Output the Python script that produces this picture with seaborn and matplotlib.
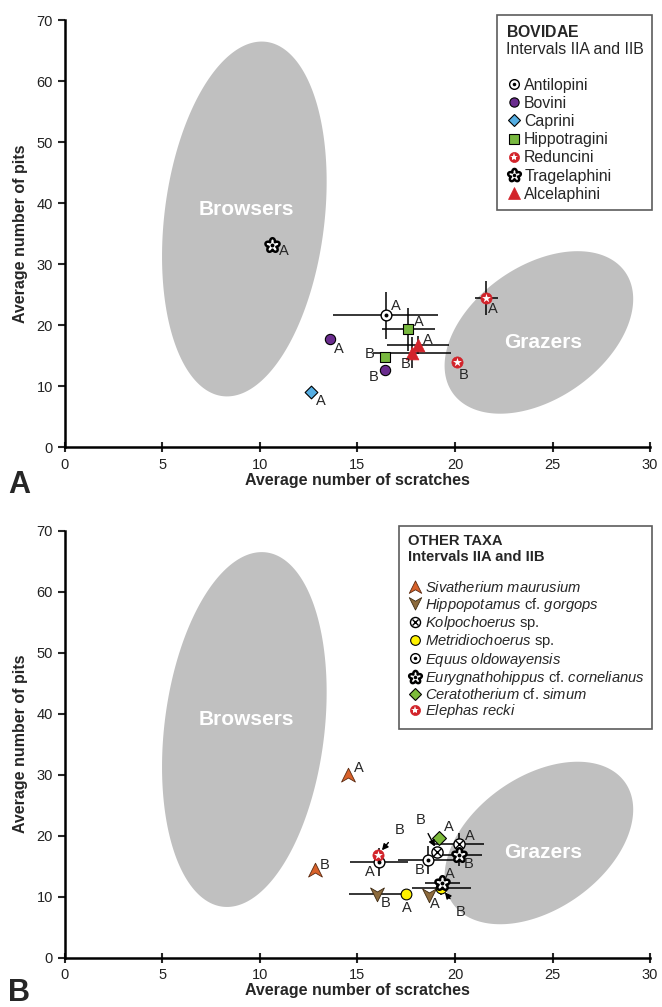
import numpy as np
import pandas as pd
import matplotlib
matplotlib.use("Agg")
import matplotlib.pyplot as plt
from matplotlib.path import Path
from matplotlib.lines import Line2D
import seaborn as sns

# ---- panel A: Bovidae ----
bov_taxa = ["Tragelaphini", "Antilopini", "Hippotragini", "Alcelaphini", "Alcelaphini",
            "Hippotragini", "Bovini", "Bovini", "Caprini", "Reduncini", "Reduncini"]
bov_interval = ["A", "A", "A", "A", "B", "B", "A", "B", "A", "A", "B"]
bov_scratches = [10.6, 16.45, 17.6, 18.1, 17.8, 16.4, 13.6, 16.4, 12.6, 21.6, 20.1]
bov_pits = [33.1, 21.6, 19.3, 16.7, 15.5, 14.8, 17.7, 12.6, 9.1, 24.4, 13.9]
bov_xerr = [0, 2.7, 1.35, 1.6, 2.0, 0, 0, 0, 0, 0.6, 0]
bov_yerr = [0, 3.8, 3.5, 1.5, 2.5, 0, 0, 0, 0, 2.8, 0]
bov_legend = ["Antilopini", "Bovini", "Caprini", "Hippotragini", "Reduncini",
              "Tragelaphini", "Alcelaphini"]

# ---- panel B: other taxa ----
oth_taxa = ["Sivatherium", "Sivatherium", "Hippopotamus", "Hippopotamus",
            "Kolpochoerus", "Kolpochoerus", "Metridiochoerus", "Metridiochoerus",
            "Equus", "Equus", "Eurygnathohippus", "Eurygnathohippus",
            "Ceratotherium", "Elephas"]
oth_interval = ["A", "B", "A", "B", "A", "B", "A", "B", "A", "B", "A", "B", "A", "B"]
oth_scratches = [14.5, 12.8, 18.67, 16.0, 20.2, 19.1, 17.5, 19.3, 16.1, 18.6, 19.35, 20.2, 19.2, 16.07]
oth_pits = [30.0, 14.3, 10.2, 10.5, 18.6, 17.4, 10.4, 11.4, 15.7, 16.0, 12.2, 16.9, 19.6, 16.9]
oth_xerr = [0, 0, 0, 1.45, 1.3, 0, 0, 1.5, 1.5, 1.5, 0.9, 1.2, 0, 0]
oth_yerr = [0, 0, 0, 0, 1.9, 0, 0, 1.1, 2.3, 2.3, 0.9, 1.8, 0, 0]
oth_legend = ["Sivatherium", "Hippopotamus", "Kolpochoerus", "Metridiochoerus",
              "Equus", "Eurygnathohippus", "Ceratotherium", "Elephas"]
oth_names = {
    "Sivatherium": r"$\it{Sivatherium}$ $\it{maurusium}$",
    "Hippopotamus": r"$\it{Hippopotamus}$ cf. $\it{gorgops}$",
    "Kolpochoerus": r"$\it{Kolpochoerus}$ sp.",
    "Metridiochoerus": r"$\it{Metridiochoerus}$ sp.",
    "Equus": r"$\it{Equus}$ $\it{oldowayensis}$",
    "Eurygnathohippus": r"$\it{Eurygnathohippus}$ cf. $\it{cornelianus}$",
    "Ceratotherium": r"$\it{Ceratotherium}$ cf. $\it{simum}$",
    "Elephas": r"$\it{Elephas}$ $\it{recki}$",
}

# label placement (offset points) and arrows
bov_lab_off = [(9, -4), (7, 7), (8, 5), (7, 4), (-5, -8), (-11, 2), (6, -7), (-8, -5), (7, -7), (5, -8), (5, -9)]
oth_lab_off = [(8, 5), (7, 4), (4, -6), (6, -7), (8, 6), (-12, 23), (0.5, -10), (14, -17),
               (-6.5, -7), (-6, -7), (5.5, 7), (7, -7), (6.5, 8), (15, 18)]
oth_arrow = [False] * 5 + [True] + [False, True] + [False] * 5 + [True]

# feeding-group ellipses: centre x, centre y, semi-major, semi-minor (x units), angle
browsers = (9.2, 37.4, 9.15, 4.1, 83)
grazers = (24.3, 18.8, 5.4, 3.4, 35)

# marker shapes
def chevron(up=True):
    pts = [(0, 1), (0.95, -0.9), (0, -0.35), (-0.95, -0.9), (0, 1)]
    if not up:
        pts = [(x, -y) for x, y in pts]
    return Path(pts, [Path.MOVETO, Path.LINETO, Path.LINETO, Path.LINETO, Path.CLOSEPOLY])

def flower():
    t = np.linspace(0, 2 * np.pi, 200)
    r = 0.55 + 0.45 * np.abs(np.cos(2.5 * t))
    verts = np.column_stack([r * np.sin(t), r * np.cos(t)])
    return Path(verts, closed=True)

RED = "#d2232a"
styles = {
    "Antilopini": [dict(marker="o", fc="white", ec="black", s=60, lw=1), dict(marker="o", fc="black", ec="black", s=8, lw=0)],
    "Bovini": [dict(marker="o", fc="#6a2c8e", ec="black", s=55, lw=0.8)],
    "Caprini": [dict(marker="D", fc="#55aee3", ec="black", s=42, lw=0.8)],
    "Hippotragini": [dict(marker="s", fc="#78b83f", ec="black", s=58, lw=0.8)],
    "Reduncini": [dict(marker="o", fc=RED, ec=RED, s=65, lw=0.5), dict(marker="*", fc="white", ec="white", s=45, lw=0)],
    "Tragelaphini": [dict(marker=flower(), fc="white", ec="black", s=110, lw=1.8), dict(marker="o", fc="black", ec="black", s=8, lw=0)],
    "Alcelaphini": [dict(marker="^", fc=RED, ec=RED, s=85, lw=0.5)],
    "Sivatherium": [dict(marker=chevron(True), fc="#d8612a", ec="#5a2a10", s=110, lw=0.6)],
    "Hippopotamus": [dict(marker=chevron(False), fc="#8c6a3c", ec="#3d2a12", s=110, lw=0.6)],
    "Kolpochoerus": [dict(marker="o", fc="white", ec="black", s=65, lw=1), dict(marker="x", fc="black", ec="black", s=30, lw=1)],
    "Metridiochoerus": [dict(marker="o", fc="#fff200", ec="black", s=60, lw=0.8)],
    "Equus": [dict(marker="o", fc="white", ec="black", s=60, lw=1), dict(marker="o", fc="black", ec="black", s=8, lw=0)],
    "Eurygnathohippus": [dict(marker=flower(), fc="white", ec="black", s=110, lw=1.8), dict(marker="o", fc="black", ec="black", s=8, lw=0)],
    "Ceratotherium": [dict(marker="D", fc="#7dbb3b", ec="black", s=50, lw=0.8)],
    "Elephas": [dict(marker="o", fc=RED, ec=RED, s=65, lw=0.5), dict(marker="*", fc="white", ec="white", s=45, lw=0)],
}

sns.set_style("ticks")
plt.rcParams["font.family"] = ["Liberation Sans", "DejaVu Sans"]
plt.rcParams["mathtext.fontset"] = "custom"
plt.rcParams["mathtext.rm"] = "Liberation Sans"
plt.rcParams["mathtext.it"] = "Liberation Sans:italic"
plt.rcParams["mathtext.bf"] = "Liberation Sans:bold"

fig = plt.figure(figsize=(6.62, 10.07), dpi=100)
ax_a = fig.add_axes([0.098, 0.556, 0.884, 0.424])
ax_b = fig.add_axes([0.098, 0.049, 0.884, 0.424])


def draw_ellipse(ax, params, k):
    cx, cy, a, b, ang = params
    t = np.linspace(0, 2 * np.pi, 300)
    th = np.deg2rad(ang)
    u = cx + a * np.cos(t) * np.cos(th) - b * np.sin(t) * np.sin(th)
    v = cy * k + a * np.cos(t) * np.sin(th) + b * np.sin(t) * np.cos(th)
    ax.fill(u, v / k, color="#c0c0c0", lw=0, zorder=0)


def marker_handle(taxon):
    hs = []
    for st in styles[taxon]:
        ms = np.sqrt(st["s"]) * 0.9
        hs.append(Line2D([], [], linestyle="none", marker=st["marker"], markersize=ms,
                         markerfacecolor=st["fc"], markeredgecolor=st["ec"], markeredgewidth=st["lw"]))
    return tuple(hs) if len(hs) > 1 else hs[0]


def panel(ax, df, lab_off, arrows, legend_taxa, names, title, title_bold, leg_fs, leg_sp):
    fw, fh = fig.get_size_inches()
    pos = ax.get_position()
    k = (pos.height * fh / 70) / (pos.width * fw / 30)
    draw_ellipse(ax, browsers, k)
    draw_ellipse(ax, grazers, k)
    ax.text(browsers[0] + 0.1, 39, "Browsers", color="white", fontsize=15, fontweight="bold",
            ha="center", va="center", zorder=1)
    ax.text(24.5, 17.2, "Grazers", color="white", fontsize=15, fontweight="bold",
            ha="center", va="center", zorder=1)

    eb = df[(df.xerr > 0) | (df.yerr > 0)]
    ax.errorbar(eb.x, eb.y, xerr=eb.xerr, yerr=eb.yerr, fmt="none", ecolor="black",
                elinewidth=1.1, capsize=0, zorder=2)
    for taxon, sub in df.groupby("taxon", sort=False):
        for i, st in enumerate(styles[taxon]):
            sns.scatterplot(data=sub, x="x", y="y", marker=st["marker"], s=st["s"],
                            color=st["fc"], edgecolor=st["ec"], linewidth=st["lw"],
                            ax=ax, zorder=3 + i, legend=False)
    for (_, r), off, arr in zip(df.iterrows(), lab_off, arrows):
        ax.annotate(r.interval, (r.x, r.y), xytext=off, textcoords="offset points",
                    ha="center", va="center", fontsize=10.5, zorder=6,
                    arrowprops=dict(arrowstyle="-|>", color="black", lw=1, shrinkA=3, shrinkB=4,
                                    mutation_scale=9) if arr else None)

    ax.set_xlim(0, 30)
    ax.set_ylim(0, 70)
    ax.set_xticks(range(0, 31, 5))
    ax.set_yticks(range(0, 71, 10))
    ax.set_xlabel("Average number of scratches", fontsize=11.5, fontweight="bold", labelpad=1)
    ax.set_ylabel("Average number of pits", fontsize=11.5, fontweight="bold", labelpad=6)
    sns.despine(ax=ax)
    for sp in ("left", "bottom"):
        ax.spines[sp].set_linewidth(1.8)
        ax.spines[sp].set_color("black")
    ax.tick_params(axis="x", direction="inout", length=7, width=1.5, labelsize=10.5, labelcolor="#222222", pad=4)
    ax.tick_params(axis="y", direction="out", length=5, width=1.5, labelsize=10.5, labelcolor="#222222")

    handles = [marker_handle(t) for t in legend_taxa]
    labels = [names.get(t, t) for t in legend_taxa]
    leg = ax.legend(handles, labels, loc="upper right", bbox_to_anchor=(1.004, 1.012),
                    title=title, alignment="left", frameon=True, fancybox=False,
                    edgecolor="#333333", fontsize=leg_fs, title_fontsize=leg_fs,
                    handletextpad=0.15, handlelength=1.0, labelspacing=leg_sp,
                    borderpad=0.55, borderaxespad=0.0)
    leg.get_frame().set_linewidth(1.2)
    if title_bold:
        leg.get_title().set_fontweight("bold")


df_a = pd.DataFrame({"taxon": bov_taxa, "interval": bov_interval, "x": bov_scratches,
                     "y": bov_pits, "xerr": bov_xerr, "yerr": bov_yerr})
df_b = pd.DataFrame({"taxon": oth_taxa, "interval": oth_interval, "x": oth_scratches,
                     "y": oth_pits, "xerr": oth_xerr, "yerr": oth_yerr})

panel(ax_a, df_a, bov_lab_off, [False] * len(df_a), bov_legend, {},
      r"$\bf{BOVIDAE}$" + "\nIntervals IIA and IIB" + "\n", False, 11.4, 0.2)
panel(ax_b, df_b, oth_lab_off, oth_arrow, oth_legend, oth_names,
      "OTHER TAXA\nIntervals IIA and IIB\n", True, 10.6, 0.02)

fig.text(0.012, 0.518, "A", fontsize=22, fontweight="bold", va="center")
fig.text(0.012, 0.006, "B", fontsize=22, fontweight="bold", va="baseline")

fig.savefig("out.png", dpi=100)
